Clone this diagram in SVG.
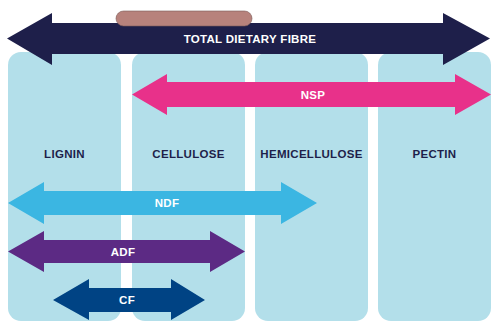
<svg xmlns="http://www.w3.org/2000/svg" width="500" height="327" viewBox="0 0 500 327">
<style>
.col{fill:#b3dfea}
.lbl{font-family:"Liberation Sans",Arial,sans-serif;font-weight:bold;font-size:11.5px;text-anchor:middle;letter-spacing:0.3px}
.dark{fill:#1e1f4a}
.white{fill:#ffffff}
</style>
<rect width="500" height="327" fill="#ffffff"/>
<g id="lignin"><rect class="col" x="8" y="52" width="113" height="269" rx="13"/><text class="lbl dark" x="64.5" y="158">LIGNIN</text></g>
<g id="cellulose"><rect class="col" x="132" y="52" width="113" height="269" rx="13"/><text class="lbl dark" x="188.5" y="158">CELLULOSE</text></g>
<g id="hemicellulose"><rect class="col" x="255" y="52" width="113" height="269" rx="13"/><text class="lbl dark" x="311.5" y="158">HEMICELLULOSE</text></g>
<g id="pectin"><rect class="col" x="378" y="52" width="113" height="269" rx="13"/><text class="lbl dark" x="434.5" y="158">PECTIN</text></g>
<g id="connectors">
<g id="tdf"><polygon fill="#1e1f4a" points="7,38.5 52,13 52,23 443,23 443,13 490,38.5 443,65 443,54 52,54 52,65"/><text class="lbl white" x="250" y="42.6">TOTAL DIETARY FIBRE</text></g>
<g id="nsp"><polygon fill="#e8318a" points="132,94.5 167,74 167,82 455,82 455,74 491,94.5 455,115 455,107 167,107 167,115"/><text class="lbl white" x="313" y="98.6">NSP</text></g>
<g id="ndf"><polygon fill="#3bb6e2" points="8,203 44,182 44,191 281,191 281,182 317,203 281,224 281,215 44,215 44,224"/><text class="lbl white" x="167" y="207.1">NDF</text></g>
<g id="adf"><polygon fill="#5c2a84" points="8,251.5 44,231 44,240 210,240 210,231 245,251.5 210,272 210,263 44,263 44,272"/><text class="lbl white" x="123" y="255.6">ADF</text></g>
<g id="cf"><polygon fill="#004384" points="53,300 89,279 89,288 171,288 171,279 205,300 171,320 171,312 89,312 89,320"/><text class="lbl white" x="127" y="304.1">CF</text></g>
</g>
<rect id="bar" x="116" y="11" width="136" height="15" rx="7.5" fill="#b7827c" stroke="#7a5a58" stroke-width="0.6"/>
</svg>
